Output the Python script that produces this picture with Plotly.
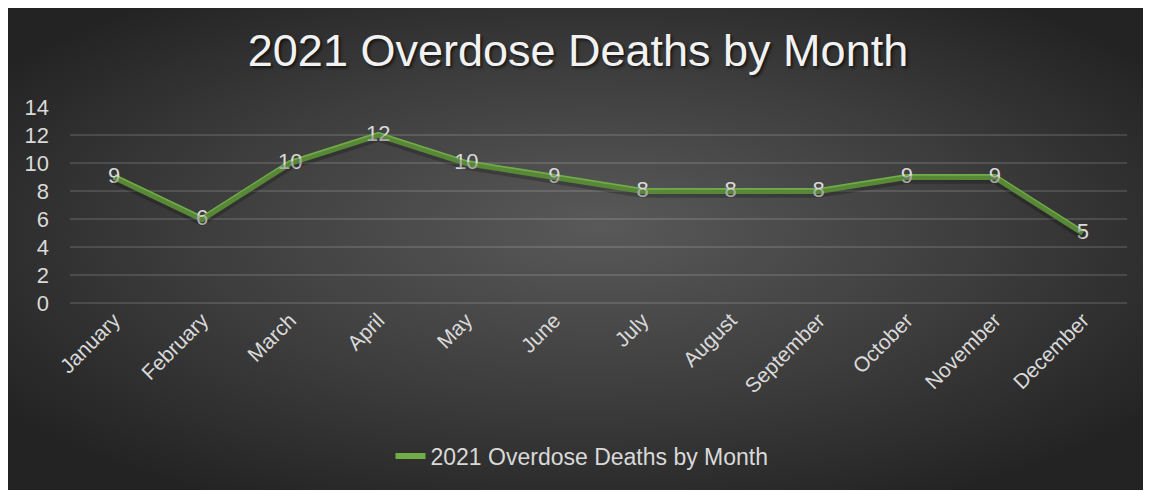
import base64
import plotly.graph_objects as go

months = ["January", "February", "March", "April", "May", "June", "July",
          "August", "September", "October", "November", "December"]
deaths = [9, 6, 10, 12, 10, 9, 8, 8, 8, 9, 9, 5]
y_ticks = [0, 2, 4, 6, 8, 10, 12, 14]
title_text = "2021 Overdose Deaths by Month"
series_name = "2021 Overdose Deaths by Month"

# page body has an 8px margin, so the figure is sized/placed to compensate
W, H = 1143, 483
L, R, T, B = 62, 24, 99, 188
pw, ph = W - L - R, H - T - B

svg = (
    '<svg xmlns="http://www.w3.org/2000/svg" width="1141" height="482" '
    'viewBox="0 0 1141 482" preserveAspectRatio="none">'
    '<defs><radialGradient id="g" cx="50%" cy="48%" r="62%" fx="52%" fy="45%">'
    '<stop offset="0" stop-color="#595959"/>'
    '<stop offset="0.55" stop-color="#3d3d3d"/>'
    '<stop offset="1" stop-color="#232323"/>'
    '</radialGradient></defs>'
    '<rect width="1141" height="482" fill="url(#g)"/></svg>'
)
src = "data:image/svg+xml;base64," + base64.b64encode(svg.encode()).decode()

FONT = "Liberation Sans, Arial, sans-serif"
label_font = dict(family=FONT, size=22, color="#d9d9d9")

fig = go.Figure()
# soft shadow under the line
fig.add_trace(go.Scatter(
    x=months, y=deaths, mode="lines", yaxis="y2",
    line=dict(color="rgba(0,0,0,0.22)", width=8),
    hoverinfo="skip", showlegend=False,
))
fig.add_trace(go.Scatter(
    x=months, y=deaths, mode="lines+text", name=series_name,
    text=[str(v) for v in deaths], textposition="middle center",
    textfont=label_font,
    line=dict(color="#70ad47", width=6),
))

grid = "rgba(255,255,255,0.13)"
fig.update_layout(
    width=W, height=H,
    margin=dict(l=L, r=R, t=T, b=B, pad=0),
    paper_bgcolor="white",
    plot_bgcolor="rgba(0,0,0,0)",
    images=[dict(
        source=src, xref="paper", yref="paper",
        x=(0 - L) / pw, y=(H - B) / ph,
        sizex=1141 / pw, sizey=482 / ph,
        xanchor="left", yanchor="top", sizing="stretch", layer="below",
    )],
    title=dict(
        text=title_text, x=(570 - L) / pw, xref="paper", xanchor="center",
        y=1 - 42 / H, yanchor="middle",
        font=dict(family=FONT, size=45, color="#f2f2f2",
                  shadow="2px 2px 3px rgba(0,0,0,0.6)"),
    ),
    xaxis=dict(
        range=[-0.5, len(months) - 0.5],
        showgrid=False, showline=False, zeroline=False, ticks="",
        tickangle=-45, tickfont=dict(family=FONT, size=21, color="#d9d9d9"),
        fixedrange=True,
    ),
    xaxis2=dict(overlaying="x", range=[-0.5, len(months) - 0.5], visible=False),
    yaxis=dict(
        range=[0, 14], tickvals=y_ticks, showgrid=True, gridcolor=grid, gridwidth=1.5,
        zeroline=True, zerolinecolor=grid, zerolinewidth=1.5, showline=False, ticks="",
        ticklabelstandoff=20,
        tickfont=dict(family=FONT, size=22, color="#d9d9d9"),
    ),
    yaxis2=dict(
        overlaying="y", range=[0.2, 14.2], visible=False,
    ),
    showlegend=True,
    legend=dict(
        orientation="h", x=(574 - L) / pw, xanchor="center",
        y=(H - B - 448) / ph, yanchor="middle",
        font=dict(family=FONT, size=23, color="#d9d9d9"),
        bgcolor="rgba(0,0,0,0)",
    ),
)
fig.data[0].update(xaxis="x")

fig.write_html("out.html")
